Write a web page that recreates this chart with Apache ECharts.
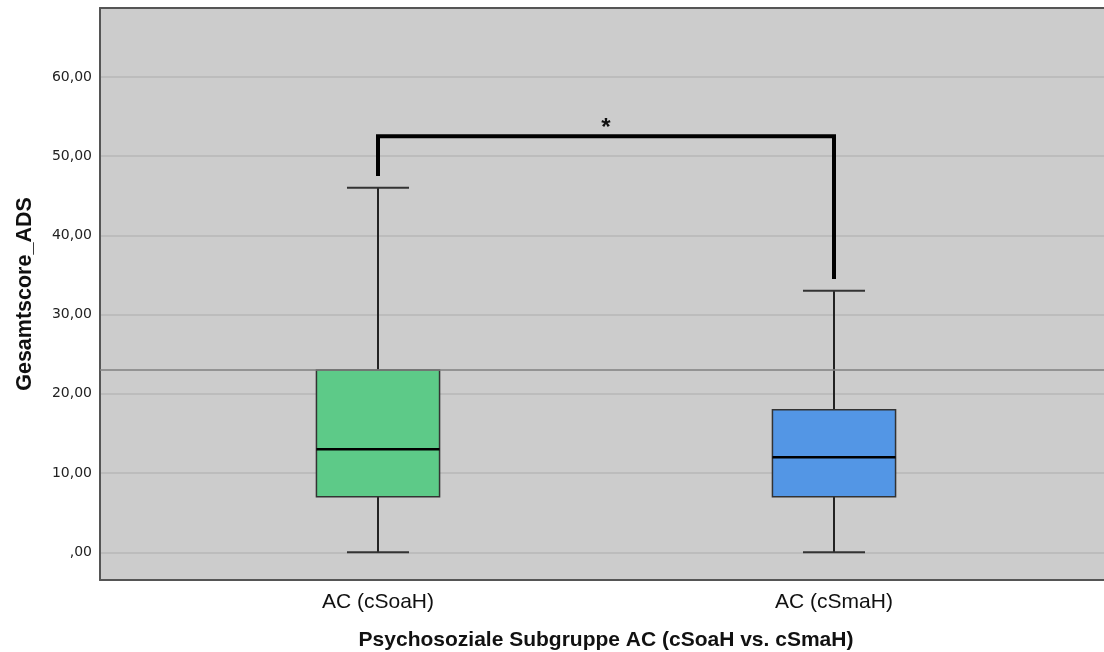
<!DOCTYPE html>
<html>
<head>
<meta charset="utf-8">
<script src="https://cdn.jsdelivr.net/npm/echarts@6/dist/echarts.min.js"></script>
<style>
  html, body { margin: 0; padding: 0; background: #fff; }
  #chart { width: 1104px; height: 652px; }
</style>
</head>
<body>
<div id="chart"></div>
<script>
// data
const categories = ["AC (cSoaH)", "AC (cSmaH)"];
const whiskerLow = [0, 0];
const q1 = [7, 7];
const medians = [13, 12];
const q3 = [23, 18];
const whiskerHigh = [46, 33];
const boxColors = ["#5dca88", "#5396e5"];
const refValue = 23;
// significance bracket: [category index, value]
const bracketX = [0, 0, 1, 1];
const bracketY = [47.5, 52.5, 52.5, 34.5];
const yMin = -3.5;
const yMax = 68.7;

const fmt = (v) => {
  if (Math.abs(v - Math.round(v / 10) * 10) > 1e-6) return "";
  if (v === 0) return ",00";
  return v.toFixed(2).replace(".", ",");
};

const boxData = categories.map((c, i) => [i, whiskerLow[i], q1[i], medians[i], q3[i], whiskerHigh[i]]);
const bracketData = bracketX.map((x, i) => [x, bracketY[i]]);

let myChart = echarts.init(document.getElementById("chart"));
myChart.setOption({
  animation: false,
  grid: [
    { left: 100, right: 0, top: 8, bottom: 72, show: true, backgroundColor: "#cccccc", borderWidth: 0, outerBoundsMode: "none" },
    { left: 150, right: 42, top: 8, bottom: 72, outerBoundsMode: "none" },
  ],
  xAxis: [
    {
      gridIndex: 0, type: "value", min: 0, max: 1, position: "bottom",
      axisLine: { show: true, onZero: false, lineStyle: { color: "#555", width: 2 } },
      axisTick: { show: false }, axisLabel: { show: false }, splitLine: { show: false },
    },
    {
      gridIndex: 0, type: "value", min: 0, max: 1, position: "top",
      axisLine: { show: true, onZero: false, lineStyle: { color: "#555", width: 2 } },
      axisTick: { show: false }, axisLabel: { show: false }, splitLine: { show: false },
    },
    {
      gridIndex: 1, type: "category", data: categories,
      axisLine: { show: false }, axisTick: { show: false },
      axisLabel: { margin: 12, fontSize: 21, color: "#111", fontFamily: "Liberation Sans" },
      name: "Psychosoziale Subgruppe AC (cSoaH vs. cSmaH)",
      nameLocation: "middle", nameGap: 50,
      nameTextStyle: { fontSize: 21, fontWeight: "bold", color: "#111", fontFamily: "Liberation Sans" },
    },
  ],
  yAxis: [
    {
      gridIndex: 0, type: "value", min: yMin, max: yMax,
      axisLine: { show: true, onZero: false, lineStyle: { color: "#555", width: 2 } },
      axisTick: { show: false },
      axisLabel: { formatter: fmt, fontSize: 14, color: "#222", margin: 8, fontFamily: "DejaVu Sans" },
      splitLine: { show: true, lineStyle: { color: "#b7b7b7", width: 1.5 } },
      name: "Gesamtscore_ADS", nameLocation: "middle", nameGap: 64,
      nameTextStyle: { fontSize: 21.5, fontWeight: "bold", color: "#111", fontFamily: "Liberation Sans" },
    },
    { gridIndex: 1, type: "value", min: yMin, max: yMax, show: false },
  ],
  series: [
    {
      type: "line", xAxisIndex: 0, yAxisIndex: 0, data: [],
      markLine: {
        silent: true, symbol: ["none", "none"], label: { show: false },
        lineStyle: { color: "#808080", width: 1.5, type: "solid" },
        data: [{ yAxis: refValue }],
      },
    },
    {
      type: "custom", xAxisIndex: 2, yAxisIndex: 1, data: boxData,
      renderItem: function (params, api) {
        const i = api.value(0);
        const band = api.size([1, 0])[0];
        const boxW = band * 0.27;
        const capW = band * 0.136;
        const lo = api.coord([i, api.value(1)]);
        const b1 = api.coord([i, api.value(2)]);
        const md = api.coord([i, api.value(3)]);
        const b3 = api.coord([i, api.value(4)]);
        const hi = api.coord([i, api.value(5)]);
        const cx = lo[0];
        const stroke = "#222";
        return {
          type: "group",
          children: [
            { type: "line", shape: { x1: cx, y1: b3[1], x2: cx, y2: hi[1] }, style: { stroke: stroke, lineWidth: 2 } },
            { type: "line", shape: { x1: cx, y1: b1[1], x2: cx, y2: lo[1] }, style: { stroke: stroke, lineWidth: 2 } },
            { type: "line", shape: { x1: cx - capW / 2, y1: hi[1], x2: cx + capW / 2, y2: hi[1] }, style: { stroke: "#333", lineWidth: 2 } },
            { type: "line", shape: { x1: cx - capW / 2, y1: lo[1], x2: cx + capW / 2, y2: lo[1] }, style: { stroke: "#333", lineWidth: 2 } },
            {
              type: "rect",
              shape: { x: cx - boxW / 2, y: b3[1], width: boxW, height: b1[1] - b3[1] },
              style: { fill: boxColors[i], stroke: "#333", lineWidth: 1.5 },
            },
            { type: "line", shape: { x1: cx - boxW / 2, y1: md[1], x2: cx + boxW / 2, y2: md[1] }, style: { stroke: "#000", lineWidth: 2.5 } },
          ],
        };
      },
    },
    {
      type: "line", xAxisIndex: 2, yAxisIndex: 1, data: bracketData,
      symbol: "none", lineStyle: { color: "#000", width: 4, join: "miter", cap: "butt" },
      markLine: {
        silent: true, symbol: ["none", "none"],
        lineStyle: { color: "rgba(0,0,0,0)", width: 0 },
        label: { show: true, position: "middle", formatter: "*", fontSize: 24, fontWeight: "bold", color: "#111", distance: -4, fontFamily: "Liberation Sans" },
        data: [[{ coord: [bracketX[1], bracketY[1]] }, { coord: [bracketX[2], bracketY[2]] }]],
      },
    },
  ],
});
</script>
</body>
</html>
